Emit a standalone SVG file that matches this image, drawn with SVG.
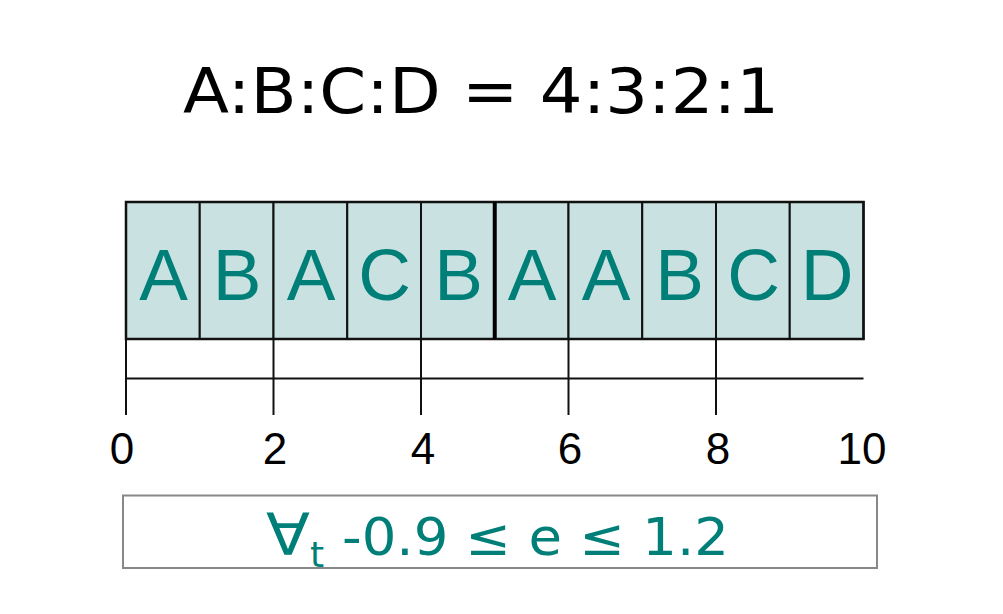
<svg xmlns="http://www.w3.org/2000/svg" width="1003" height="614" viewBox="0 0 1003 614">
<style>
.cell{fill:#c9e1e1;stroke:#111;stroke-width:2}
.lt{font-family:"Liberation Sans",Arial,sans-serif;font-size:73px;fill:#007f78;text-anchor:middle}
.tk{font-family:"Liberation Sans",Arial,sans-serif;font-size:44px;fill:#000;text-anchor:middle}
.ln{stroke:#111;stroke-width:2;fill:none}
.ft{font-family:"DejaVu Sans",Verdana,sans-serif;fill:#007f78}
</style>
<rect width="1003" height="614" fill="#fff"/>
<g id="title">
<text x="183" y="113" font-family="'DejaVu Sans',Verdana,sans-serif" font-size="63" textLength="596" lengthAdjust="spacingAndGlyphs">A:B:C:D = 4:3:2:1</text>
</g>
<g id="cells">
<g id="c1"><rect class="cell" x="126" y="202" width="73.75" height="137"/><text class="lt" x="163.5" y="300">A</text></g>
<g id="c2"><rect class="cell" x="199.75" y="202" width="73.75" height="137"/><text class="lt" x="237.2" y="300">B</text></g>
<g id="c3"><rect class="cell" x="273.5" y="202" width="73.75" height="137"/><text class="lt" x="311" y="300">A</text></g>
<g id="c4"><rect class="cell" x="347.25" y="202" width="73.75" height="137"/><text class="lt" x="384.7" y="300">C</text></g>
<g id="c5"><rect class="cell" x="421" y="202" width="73.75" height="137"/><text class="lt" x="458.5" y="300">B</text></g>
<g id="c6"><rect class="cell" x="494.75" y="202" width="73.75" height="137"/><text class="lt" x="532.2" y="300">A</text></g>
<g id="c7"><rect class="cell" x="568.5" y="202" width="73.75" height="137"/><text class="lt" x="606" y="300">A</text></g>
<g id="c8"><rect class="cell" x="642.25" y="202" width="73.75" height="137"/><text class="lt" x="679.7" y="300">B</text></g>
<g id="c9"><rect class="cell" x="716" y="202" width="73.75" height="137"/><text class="lt" x="753.5" y="300">C</text></g>
<g id="c10"><rect class="cell" x="789.75" y="202" width="73.75" height="137"/><text class="lt" x="827.2" y="300">D</text></g>
<rect x="126" y="202" width="737.5" height="137" fill="none" stroke="#111" stroke-width="2.5"/>
<line x1="494.75" y1="202" x2="494.75" y2="339" stroke="#000" stroke-width="4"/>
</g>
<g id="axis">
<line class="ln" x1="126" y1="378.5" x2="863.5" y2="378.5"/>
<line class="ln" x1="126" y1="339" x2="126" y2="415"/>
<line class="ln" x1="273.5" y1="339" x2="273.5" y2="415"/>
<line class="ln" x1="421" y1="339" x2="421" y2="415"/>
<line class="ln" x1="568.5" y1="339" x2="568.5" y2="415"/>
<line class="ln" x1="716" y1="339" x2="716" y2="415"/>
<text class="tk" x="122" y="464">0</text>
<text class="tk" x="275" y="464">2</text>
<text class="tk" x="423" y="464">4</text>
<text class="tk" x="570" y="464">6</text>
<text class="tk" x="718" y="464">8</text>
<text class="tk" x="862" y="464">10</text>
</g>
<g id="formula">
<rect x="123" y="495.5" width="754" height="72.5" fill="#fff" stroke="#888" stroke-width="2"/>
<text class="ft" x="266" y="555" font-size="58" textLength="44" lengthAdjust="spacingAndGlyphs">∀</text>
<text class="ft" x="310" y="567" font-size="36">t</text>
<text class="ft" x="342" y="555" font-size="51" textLength="387" lengthAdjust="spacingAndGlyphs">-0.9 ≤ e ≤ 1.2</text>
</g>
</svg>
